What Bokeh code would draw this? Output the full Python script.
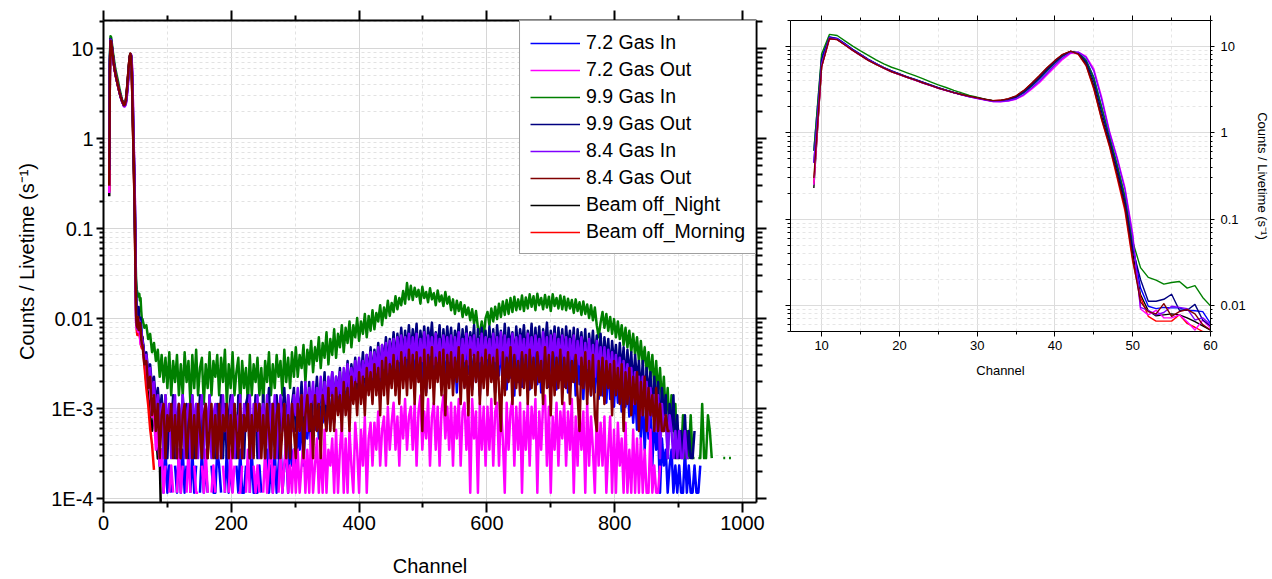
import math
from bokeh.plotting import figure
from bokeh.models import (Range1d, FixedTicker, LinearAxis, LogAxis, Legend, LegendItem,
                          CustomJSTickFormatter)
from bokeh.layouts import row, column
from bokeh.embed import file_html
from bokeh.resources import INLINE

FONT = "Liberation Sans"

# ---------------- data ----------------
labels = ["7.2 Gas In", "7.2 Gas Out", "9.9 Gas In", "9.9 Gas Out",
          "8.4 Gas In", "8.4 Gas Out", "Beam off_Night", "Beam off_Morning"]
colors = ["#0000FF", "#FF00FF", "#008000", "#000080",
          "#8000FF", "#800000", "#000000", "#FF0000"]

peak_channels = list(range(9, 61))          # channels 9..60, one value each (rate, s^-1)
tail_channels = list(range(61, 983, 3))     # channels 61..982, every 3rd channel

livetime_72 = 8550.0      # s, 7.2 runs
livetime_other = 3530.0   # s, 9.9 and 8.4 runs

peak_72_in = [0.62, 7.5, 12.9, 12.4, 10.8, 9.3, 8.1, 7.1, 6.35, 5.7, 5.2, 4.8, 4.45,
              4.15, 3.85, 3.58, 3.33, 3.12, 2.93, 2.77, 2.63, 2.52, 2.42, 2.33, 2.33, 2.4,
              2.55, 2.9, 3.45, 4.2, 5.2, 6.4, 7.7, 8.6, 8.5, 7.0, 4.4, 2.0, 0.9,
              0.42, 0.18, 0.05, 0.016, 0.0098, 0.0092, 0.0095, 0.0094, 0.0094, 0.0088, 0.0087, 0.0085, 0.0062]
peak_72_out = [0.25, 5.9, 12.4, 12.1, 10.5, 9.0, 7.9, 6.95, 6.25, 5.6, 5.1, 4.72, 4.38,
               4.08, 3.78, 3.52, 3.28, 3.08, 2.9, 2.75, 2.61, 2.5, 2.4, 2.3, 2.29, 2.33,
               2.45, 2.72, 3.2, 3.8, 4.7, 5.8, 7.1, 8.3, 8.6, 7.7, 5.5, 2.6, 1.06,
               0.52, 0.233, 0.068, 0.0091, 0.0078, 0.0088, 0.0072, 0.0072, 0.0078, 0.0065, 0.0052, 0.0068, 0.0055]
peak_99_in = [0.62, 8.2, 13.8, 13.4, 11.6, 10.1, 8.9, 7.9, 7.0, 6.3, 5.75, 5.35, 4.95,
              4.6, 4.25, 3.9, 3.6, 3.35, 3.1, 2.9, 2.72, 2.58, 2.46, 2.36, 2.36, 2.42,
              2.58, 2.95, 3.5, 4.3, 5.3, 6.5, 7.8, 8.7, 8.5, 6.9, 4.3, 2.0, 0.92,
              0.43, 0.185, 0.055, 0.0275, 0.0212, 0.0197, 0.0177, 0.0185, 0.019, 0.0159, 0.017, 0.0124, 0.0099]
peak_99_out = [0.45, 7.0, 12.8, 12.3, 10.7, 9.2, 8.1, 7.1, 6.35, 5.7, 5.2, 4.8, 4.45,
               4.15, 3.85, 3.58, 3.33, 3.12, 2.93, 2.78, 2.64, 2.53, 2.43, 2.34, 2.35, 2.43,
               2.6, 2.98, 3.55, 4.35, 5.4, 6.6, 7.9, 8.7, 8.4, 6.6, 3.9, 1.75, 0.83,
               0.38, 0.16, 0.045, 0.02, 0.0112, 0.0112, 0.0118, 0.0135, 0.0088, 0.0088, 0.0103, 0.0068, 0.0058]
peak_84_in = [0.45, 6.3, 12.6, 12.2, 10.6, 9.1, 8.0, 7.0, 6.3, 5.65, 5.15, 4.75, 4.4,
              4.1, 3.8, 3.55, 3.3, 3.1, 2.92, 2.76, 2.62, 2.51, 2.41, 2.31, 2.3, 2.35,
              2.48, 2.78, 3.3, 3.95, 4.9, 6.1, 7.4, 8.5, 8.6, 7.5, 5.2, 2.45, 1.02,
              0.5, 0.22, 0.063, 0.0095, 0.0088, 0.0078, 0.0083, 0.0098, 0.0095, 0.0092, 0.0068, 0.0072, 0.006]
peak_84_out = [0.30, 5.8, 12.3, 12.0, 10.4, 9.0, 7.9, 6.9, 6.2, 5.6, 5.1, 4.75, 4.4,
               4.1, 3.8, 3.55, 3.3, 3.1, 2.92, 2.78, 2.65, 2.55, 2.45, 2.36, 2.38, 2.48,
               2.68, 3.1, 3.75, 4.6, 5.7, 6.9, 8.1, 8.8, 8.2, 6.1, 3.3, 1.45, 0.72,
               0.32, 0.135, 0.035, 0.011, 0.0085, 0.008, 0.0105, 0.0075, 0.0085, 0.009, 0.008, 0.006, 0.0052]
peak_night = [0.23, 5.9, 12.5, 12.1, 10.5, 9.05, 7.95, 6.95, 6.25, 5.62, 5.12, 4.74, 4.4,
              4.1, 3.8, 3.55, 3.3, 3.1, 2.92, 2.77, 2.64, 2.54, 2.44, 2.35, 2.37, 2.46,
              2.65, 3.05, 3.68, 4.5, 5.6, 6.8, 8.0, 8.8, 8.3, 6.3, 3.5, 1.55, 0.76,
              0.34, 0.145, 0.04, 0.0134, 0.0087, 0.0076, 0.0078, 0.008, 0.0078, 0.0072, 0.0065, 0.0058, 0.0052]
peak_morning = [0.26, 5.8, 12.3, 12.0, 10.4, 9.0, 7.9, 6.9, 6.2, 5.6, 5.1, 4.73, 4.39,
                4.09, 3.79, 3.54, 3.3, 3.1, 2.92, 2.77, 2.64, 2.54, 2.44, 2.36, 2.38, 2.47,
                2.66, 3.08, 3.72, 4.55, 5.65, 6.85, 8.05, 8.75, 8.1, 6.0, 3.2, 1.42, 0.7,
                0.3, 0.125, 0.032, 0.0125, 0.0075, 0.0066, 0.0066, 0.0066, 0.0078, 0.0062, 0.0056, 0.005, 0.0047]

# counts per (every 3rd) channel, channels 61 onwards
tail_72_in = [
    50, 34, 30, 17, 16, 8, 9, 4, 5, 2, 3, 1, 3, 1, 2, 1, 0, 2, 1, 3,
    1, 3, 1, 2, 0, 1, 3, 1, 2, 0, 1, 3, 1, 2, 1, 0, 2, 1, 1, 3,
    2, 1, 0, 1, 3, 1, 2, 1, 0, 2, 1, 3, 1, 1, 2, 0, 1, 3, 1, 1,
    1, 2, 1, 0, 2, 3, 1, 2, 1, 3, 1, 2, 4, 1, 2, 3, 1, 5, 2, 3,
    2, 5, 3, 7, 2, 6, 4, 8, 3, 7, 5, 10, 4, 9, 6, 11, 5, 10, 7, 13,
    6, 13, 8, 16, 7, 15, 9, 19, 8, 18, 11, 22, 10, 21, 13, 25, 12, 24, 15, 28,
    14, 30, 17, 33, 15, 35, 18, 38, 16, 40, 20, 42, 17, 41, 21, 44, 19, 43, 22, 45,
    18, 42, 14, 44, 20, 40, 16, 45, 13, 41, 19, 43, 15, 39, 21, 44, 17, 42, 14, 40,
    20, 43, 16, 41, 13, 45, 18, 39, 15, 42, 21, 44, 14, 40, 17, 43, 12, 41, 19, 42,
    15, 44, 18, 40, 13, 42, 20, 45, 16, 39, 14, 43, 19, 41, 12, 44, 17, 40, 15, 42,
    18, 41, 14, 44, 20, 39, 16, 43, 13, 42, 19, 40, 15, 44, 17, 41, 14, 43, 18, 40,
    15, 42, 13, 39, 17, 41, 12, 38, 16, 40, 11, 37, 14, 36, 12, 35, 13, 33, 11, 32,
    12, 30, 10, 28, 11, 26, 9, 24, 10, 22, 8, 20, 9, 18, 7, 16, 6, 14, 5, 12,
    4, 11, 3, 9, 4, 8, 2, 7, 3, 5, 1, 4, 2, 3, 1, 2, 3, 1, 2, 1,
    2, 1, 1, 3, 1, 2, 1, 1, 2, 1, 1, 2]
tail_72_out = [
    45, 30, 26, 15, 14, 7, 8, 3, 5, 2, 3, 1, 2, 0, 1, 2, 1, 0, 1, 3,
    1, 2, 0, 1, 3, 1, 0, 2, 1, 1, 0, 2, 1, 3, 1, 0, 1, 2, 1, 0,
    1, 0, 2, 1, 0, 1, 3, 1, 2, 0, 1, 1, 2, 0, 1, 3, 1, 0, 2, 1,
    2, 1, 0, 1, 3, 1, 2, 4, 1, 2, 0, 1, 3, 1, 2, 4, 1, 2, 1, 3,
    1, 3, 1, 2, 4, 1, 3, 1, 5, 1, 2, 4, 1, 3, 1, 5, 1, 3, 2, 4,
    1, 5, 1, 3, 6, 1, 4, 1, 5, 2, 1, 6, 3, 1, 5, 2, 7, 1, 4, 6,
    2, 6, 3, 8, 2, 5, 7, 2, 9, 3, 6, 10, 3, 7, 2, 9, 4, 11, 3, 7,
    9, 3, 10, 2, 8, 12, 3, 8, 4, 11, 2, 7, 10, 3, 9, 2, 8, 12, 4, 9,
    3, 10, 2, 9, 4, 11, 2, 8, 10, 3, 9, 1, 11, 4, 8, 1, 10, 3, 9, 2,
    9, 3, 11, 2, 8, 10, 2, 9, 4, 1, 10, 3, 8, 11, 2, 9, 3, 10, 1, 8,
    3, 10, 2, 9, 4, 11, 1, 8, 3, 10, 12, 2, 9, 1, 7, 3, 10, 2, 8, 4,
    10, 2, 8, 3, 11, 1, 7, 2, 9, 3, 8, 1, 10, 2, 7, 3, 1, 8, 2, 6,
    2, 7, 1, 3, 7, 1, 5, 1, 6, 2, 4, 1, 6, 1, 3, 1, 5, 1, 4, 1,
    4, 1, 3, 1, 1, 5, 1, 2, 1, 1, 2]
tail_99_in = [
    35, 28, 30, 21, 24, 15, 19, 12, 16, 8, 14, 7, 13, 6, 15, 5, 12, 7, 14, 5,
    11, 5, 15, 7, 12, 4, 14, 6, 16, 5, 10, 13, 4, 11, 6, 15, 5, 12, 8, 14,
    5, 13, 7, 16, 4, 11, 6, 15, 5, 9, 13, 4, 12, 6, 10, 4, 14, 5, 11, 7,
    13, 5, 10, 4, 12, 7, 15, 5, 11, 6, 14, 8, 12, 5, 16, 7, 13, 6, 15, 8,
    17, 8, 14, 10, 18, 7, 16, 11, 20, 9, 17, 12, 22, 10, 19, 13, 25, 11, 21, 14,
    27, 13, 24, 17, 30, 15, 28, 19, 33, 17, 30, 22, 36, 20, 33, 24, 40, 22, 38, 26,
    44, 27, 41, 33, 50, 30, 47, 36, 56, 38, 53, 42, 63, 45, 60, 50, 72, 52, 88, 58,
    82, 57, 78, 62, 74, 52, 80, 60, 70, 54, 77, 58, 68, 50, 73, 55, 64, 49, 70, 52,
    62, 44, 58, 40, 56, 43, 54, 37, 50, 39, 47, 34, 45, 31, 43, 28, 24, 33, 22, 36,
    42, 30, 46, 33, 48, 35, 52, 37, 55, 39, 57, 40, 60, 42, 62, 44, 58, 45, 64, 43,
    61, 46, 66, 48, 63, 44, 67, 50, 60, 45, 65, 47, 62, 43, 66, 49, 60, 46, 64, 45,
    62, 44, 59, 46, 57, 41, 58, 43, 54, 39, 55, 40, 51, 36, 50, 34, 47, 30, 22, 32,
    42, 28, 40, 26, 37, 24, 35, 22, 33, 21, 30, 18, 28, 17, 26, 15, 24, 14, 22, 12,
    20, 11, 17, 9, 15, 8, 14, 6, 12, 5, 10, 4, 8, 3, 6, 2, 5, 2, 4, 1,
    2, 1, 3, 1, 2, 1, 3, 1, 1, 0, 1, 1, 4, 1, 1, 3, 2, 1, 0, 1,
    0, 0, 0, 1, 1, 0, 1, 1]
tail_99_out = [
    20, 14, 15, 9, 11, 6, 8, 4, 6, 3, 5, 2, 5, 1, 4, 2, 5, 1, 3, 4,
    1, 5, 2, 4, 1, 3, 5, 1, 4, 2, 5, 1, 3, 4, 1, 5, 2, 3, 1, 4,
    2, 5, 1, 4, 1, 3, 5, 2, 4, 1, 5, 2, 3, 1, 4, 5, 1, 3, 2, 5,
    1, 4, 2, 5, 1, 3, 6, 1, 4, 2, 5, 1, 4, 3, 6, 2, 5, 1, 4, 6,
    2, 5, 3, 7, 2, 6, 3, 7, 2, 5, 4, 8, 3, 6, 4, 9, 3, 7, 5, 9,
    4, 8, 5, 10, 4, 9, 6, 12, 5, 11, 7, 13, 6, 12, 8, 15, 7, 14, 9, 17,
    8, 16, 10, 19, 9, 18, 12, 22, 11, 21, 13, 25, 12, 24, 15, 28, 13, 26, 16, 30,
    14, 27, 17, 31, 12, 26, 16, 29, 13, 28, 18, 32, 14, 25, 17, 30, 12, 27, 15, 29,
    16, 28, 13, 26, 18, 31, 12, 27, 15, 29, 14, 25, 17, 30, 11, 27, 14, 28, 16, 26,
    13, 29, 15, 27, 12, 30, 16, 26, 14, 31, 13, 28, 17, 25, 12, 29, 15, 27, 18, 30,
    14, 26, 16, 31, 13, 28, 15, 29, 12, 27, 17, 32, 14, 26, 16, 29, 13, 28, 15, 27,
    12, 29, 16, 26, 14, 28, 11, 27, 15, 25, 13, 27, 10, 24, 14, 26, 12, 23, 11, 24,
    10, 22, 12, 21, 9, 20, 11, 18, 8, 19, 9, 17, 7, 16, 8, 15, 6, 14, 7, 12,
    5, 12, 4, 10, 5, 9, 3, 8, 4, 7, 2, 6, 3, 5, 1, 4, 2, 5, 1, 3,
    1, 2, 1, 3, 1, 2, 1, 1, 2]
tail_84_in = [
    20, 13, 14, 8, 10, 5, 7, 3, 5, 2, 4, 1, 5, 2, 4, 1, 3, 5, 1, 4,
    2, 5, 1, 3, 4, 1, 5, 2, 4, 1, 3, 5, 1, 4, 2, 5, 1, 3, 4, 1,
    4, 1, 5, 2, 3, 1, 4, 5, 1, 3, 2, 5, 1, 4, 2, 3, 5, 1, 4, 2,
    5, 1, 3, 4, 2, 5, 1, 4, 2, 5, 1, 3, 5, 2, 4, 1, 5, 3, 2, 5,
    3, 6, 2, 5, 3, 7, 2, 6, 4, 7, 3, 6, 4, 8, 3, 7, 4, 8, 5, 9,
    4, 8, 5, 9, 4, 10, 6, 11, 5, 10, 6, 12, 7, 13, 6, 12, 8, 14, 7, 15,
    8, 15, 9, 17, 8, 18, 10, 19, 9, 20, 11, 21, 10, 22, 12, 23, 11, 22, 13, 24,
    11, 22, 13, 24, 10, 21, 12, 25, 9, 23, 14, 22, 11, 24, 12, 21, 10, 23, 13, 22,
    12, 23, 10, 22, 13, 25, 9, 21, 12, 24, 11, 22, 14, 23, 10, 21, 12, 24, 11, 22,
    13, 21, 10, 24, 12, 22, 11, 25, 9, 23, 13, 21, 10, 24, 12, 22, 11, 23, 13, 21,
    10, 24, 12, 22, 11, 23, 14, 21, 10, 25, 12, 22, 9, 23, 13, 24, 11, 21, 12, 23,
    11, 22, 10, 21, 12, 23, 9, 20, 11, 22, 8, 19, 10, 21, 9, 18, 8, 20, 9, 17,
    8, 17, 7, 16, 8, 15, 6, 14, 7, 13, 5, 12, 6, 11, 5, 10, 4, 9, 5, 8,
    3, 8, 4, 7, 2, 6, 3, 5, 2, 5, 1, 4, 2, 3, 1, 3, 2, 1, 2, 1,
    2, 1, 1, 2, 1, 1]
tail_84_out = [
    18, 11, 12, 6, 8, 3, 5, 2, 4, 1, 3, 4, 1, 3, 2, 4, 1, 3, 1, 4,
    1, 3, 4, 1, 2, 4, 1, 3, 1, 4, 2, 1, 3, 4, 1, 2, 4, 1, 3, 1,
    4, 1, 3, 2, 4, 1, 3, 1, 4, 2, 1, 4, 1, 3, 2, 4, 1, 3, 1, 4,
    2, 4, 1, 3, 1, 4, 2, 1, 4, 1, 3, 4, 1, 2, 4, 1, 3, 1, 4, 2,
    1, 4, 2, 5, 1, 3, 5, 2, 4, 1, 5, 2, 4, 1, 5, 3, 2, 6, 2, 5,
    2, 6, 3, 5, 2, 7, 3, 6, 2, 8, 4, 7, 3, 9, 4, 8, 3, 10, 5, 9,
    4, 11, 5, 10, 3, 12, 5, 13, 4, 11, 6, 14, 5, 12, 4, 15, 6, 13, 5, 16,
    6, 14, 4, 15, 7, 13, 2, 16, 5, 14, 6, 17, 4, 13, 7, 15, 5, 16, 3, 14,
    6, 15, 5, 13, 7, 17, 4, 14, 6, 12, 3, 16, 5, 14, 7, 15, 4, 13, 6, 16,
    5, 14, 7, 13, 4, 16, 6, 2, 15, 5, 13, 7, 17, 4, 14, 6, 12, 5, 15, 6,
    14, 4, 16, 6, 13, 5, 15, 7, 12, 4, 17, 6, 14, 3, 15, 5, 13, 6, 16, 4,
    13, 6, 15, 4, 12, 7, 14, 5, 2, 13, 6, 15, 4, 12, 5, 14, 3, 2, 12, 5,
    13, 4, 12, 6, 11, 3, 12, 5, 10, 4, 11, 2, 9, 4, 10, 3, 8, 4, 9, 2,
    7, 3, 8, 2, 6, 3, 5, 2, 6, 2, 4, 2, 2, 3, 2, 2]
# beam-off runs: rates (s^-1) for channels 61.. (every 3rd); last night value lies below the axis
tail_night = [0.0063, 0.0034, 0.002, 0.0014, 0.00085, 0.00057, 0.00085, 0.00057, 0.00028, 0.00028, 0.00003]
tail_morning = [0.0058, 0.003, 0.0017, 0.0011, 0.0006, 0.0004, 0.00021]


def counts_to_rate(counts, livetime):
    return [c / livetime if c > 0 else float("nan") for c in counts]


series = {
    "7.2 Gas In": (peak_72_in, counts_to_rate(tail_72_in, livetime_72)),
    "7.2 Gas Out": (peak_72_out, counts_to_rate(tail_72_out, livetime_72)),
    "9.9 Gas In": (peak_99_in, counts_to_rate(tail_99_in, livetime_other)),
    "9.9 Gas Out": (peak_99_out, counts_to_rate(tail_99_out, livetime_other)),
    "8.4 Gas In": (peak_84_in, counts_to_rate(tail_84_in, livetime_other)),
    "8.4 Gas Out": (peak_84_out, counts_to_rate(tail_84_out, livetime_other)),
    "Beam off_Night": (peak_night, tail_night),
    "Beam off_Morning": (peak_morning, tail_morning),
}
color_of = dict(zip(labels, colors))
draw_order = ["Beam off_Night", "Beam off_Morning", "7.2 Gas In", "7.2 Gas Out",
              "9.9 Gas In", "9.9 Gas Out", "8.4 Gas In", "8.4 Gas Out"]

blank = CustomJSTickFormatter(code="return '';")
log_fmt_code = "return tick < 0.005 ? tick.toExponential(0).toUpperCase() : tick.toString();"


def minor_log(lo_exp, hi_exp):
    return [m * 10.0 ** e for e in range(lo_exp, hi_exp + 1) for m in range(2, 10)]


def style_axis(ax, lw, major_out, minor_out, tick_px, label_px):
    ax.axis_line_width = lw
    ax.axis_line_color = "black"
    ax.major_tick_line_width = lw
    ax.minor_tick_line_width = lw
    ax.major_tick_in = 0
    ax.minor_tick_in = 0
    ax.major_tick_out = major_out
    ax.minor_tick_out = minor_out
    ax.major_label_text_font = FONT
    ax.major_label_text_font_size = tick_px
    ax.major_label_text_color = "black"
    ax.axis_label_text_font = FONT
    ax.axis_label_text_font_size = label_px
    ax.axis_label_text_font_style = "normal"
    ax.axis_label_text_color = "black"


def style_grid(p, major_col, minor_col):
    for g in (p.xgrid, p.ygrid):
        g.grid_line_color = major_col
        g.grid_line_width = 1
        g.minor_grid_line_color = minor_col
        g.minor_grid_line_width = 1
        g.minor_grid_line_dash = "3 3"


# ---------------- left (full spectrum) ----------------
p1 = figure(width=772, height=579, y_axis_type="log",
            x_range=Range1d(0, 1022), y_range=Range1d(9.1e-5, 20.6),
            output_backend="svg", toolbar_location=None,
            min_border_left=103, min_border_right=16, min_border_top=20, min_border_bottom=76)
p1.outline_line_color = None
p1.background_fill_color = "white"
p1.border_fill_color = "white"

x_ticker1 = FixedTicker(ticks=[0, 200, 400, 600, 800, 1000], minor_ticks=[100, 300, 500, 700, 900])
y_ticker1 = FixedTicker(ticks=[1e-4, 1e-3, 1e-2, 1e-1, 1, 10], minor_ticks=minor_log(-5, 1))

p1.xaxis.ticker = x_ticker1
p1.yaxis.ticker = y_ticker1
p1.xgrid.ticker = x_ticker1
p1.ygrid.ticker = y_ticker1
p1.yaxis.formatter = CustomJSTickFormatter(code=log_fmt_code)
p1.xaxis.axis_label = "Channel"
p1.yaxis.axis_label = "Counts / Livetime (s\u207b\u00b9)"
style_axis(p1.xaxis[0], 2, 10, 5, "20px", "20px")
style_axis(p1.yaxis[0], 2, 7, 4, "20px", "20px")
p1.xaxis.major_label_standoff = 3
p1.xaxis.axis_label_standoff = 22
p1.yaxis.major_label_standoff = 3
p1.yaxis.axis_label_standoff = 10

top1 = LinearAxis(ticker=x_ticker1, formatter=blank)
style_axis(top1, 2, 10, 5, "20px", "20px")
top1.major_label_standoff = 0
p1.add_layout(top1, "above")
right1 = LogAxis(ticker=y_ticker1, formatter=blank)
style_axis(right1, 2, 10, 6, "20px", "20px")
right1.major_label_standoff = 0
p1.add_layout(right1, "right")
style_grid(p1, "#d6d6d6", "#e2e2e2")

for name in draw_order:
    peak, tail = series[name]
    xs = peak_channels + tail_channels[:len(tail)]
    ys = list(peak) + list(tail)
    p1.line(xs, ys, line_color=color_of[name], line_width=2.5, line_join="round")

items = []
nan = float("nan")
for name in labels:
    # legend-only key (no visible mark), thinner line like the reference key
    r = p1.line(x=[nan, nan], y=[nan, nan], line_color=color_of[name], line_width=1.5)
    items.append(LegendItem(label=name, renderers=[r]))
legend = Legend(items=items, location="top_right", margin=0, padding=10,
                spacing=4, label_height=23, glyph_width=50, glyph_height=20,
                label_standoff=6, label_text_font=FONT, label_text_font_size="19.5px",
                label_text_color="black", border_line_color="#404040", border_line_width=1,
                background_fill_color="white", background_fill_alpha=1.0)
p1.add_layout(legend)

# ---------------- right (zoom on low channels) ----------------
p2 = figure(width=500, height=579, y_axis_type="log", y_axis_location="right",
            x_range=Range1d(6, 60), y_range=Range1d(0.005, 20),
            output_backend="svg", toolbar_location=None,
            min_border_left=18, min_border_right=61, min_border_top=20, min_border_bottom=248)
p2.outline_line_color = None
p2.background_fill_color = "white"
p2.border_fill_color = "white"

x_ticker2 = FixedTicker(ticks=[10, 20, 30, 40, 50, 60], minor_ticks=[15, 25, 35, 45, 55])
y_ticker2 = FixedTicker(ticks=[0.01, 0.1, 1, 10], minor_ticks=minor_log(-3, 1))
p2.xaxis.ticker = x_ticker2
p2.yaxis.ticker = y_ticker2
p2.xgrid.ticker = x_ticker2
p2.ygrid.ticker = y_ticker2
p2.yaxis.formatter = CustomJSTickFormatter(code=log_fmt_code)
p2.xaxis.axis_label = "Channel"
p2.yaxis.axis_label = "Counts / Livetime (s\u207b\u00b9)"
style_axis(p2.xaxis[0], 1, 5, 3, "13px", "13px")
style_axis(p2.yaxis[0], 1, 4, 2, "13px", "13px")
p2.xaxis.major_label_standoff = 4
p2.xaxis.axis_label_standoff = 10
p2.yaxis.major_label_standoff = 6
p2.yaxis.axis_label_standoff = 6

top2 = LinearAxis(ticker=x_ticker2, formatter=blank)
style_axis(top2, 1, 5, 3, "13px", "13px")
top2.major_label_standoff = 0
p2.add_layout(top2, "above")
left2 = LogAxis(ticker=y_ticker2, formatter=blank)
style_axis(left2, 1, 5, 3, "13px", "13px")
left2.major_label_standoff = 0
p2.add_layout(left2, "left")
style_grid(p2, "#dcdcdc", "#e6e6e6")

for name in draw_order:
    peak, _ = series[name]
    p2.line(peak_channels, peak, line_color=color_of[name], line_width=1.4, line_join="round")

layout = row(column(p1), column(p2))
open("out.html", "w").write(file_html(layout, INLINE))
